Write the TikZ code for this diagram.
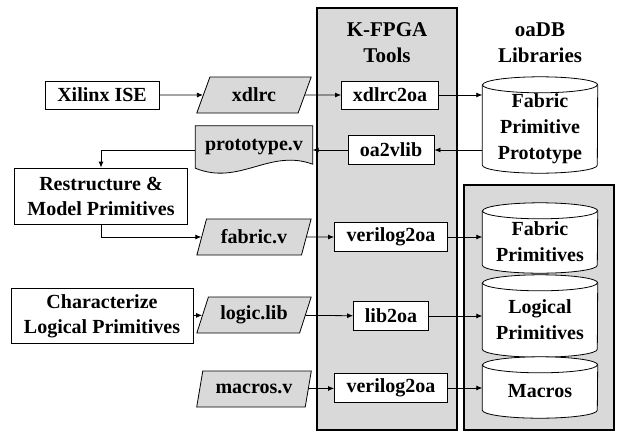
\documentclass[tikz,border=0pt]{standalone}
\usepackage{fontspec}
\setmainfont{Liberation Serif}
\usetikzlibrary{shapes.geometric,arrows.meta,positioning,backgrounds}

\newcommand{\bodyfont}{\fontsize{20}{25}\selectfont\bfseries}
\newcommand{\dbfont}{\fontsize{20}{26}\selectfont\bfseries}
\newcommand{\titlefont}{\fontsize{21}{26}\selectfont\bfseries}
% cylinder drawn round the body node #1
\newcommand{\dbshape}[1]{%
	\draw[fill = white, line width = 0.8pt] (#1.north west) -- ([yshift = 8pt]#1.south west)
		arc[start angle = 180, end angle = 360, x radius = 57.5pt, y radius = 8pt] -- (#1.north east)
		arc[start angle = 0, end angle = 180, x radius = 57.5pt, y radius = 8pt] -- cycle;
	\draw[line width = 0.8pt] (#1.north west) arc[start angle = 180, end angle = 360, x radius = 57.5pt, y radius = 8pt];}

\begin{document}
\begin{tikzpicture}[x = 1pt, y = -1pt]
			% Styles for the boxes, files and databases
			\tikzset{proc/.style = {draw, fill = white, line width = 0.8pt, inner sep = 0pt, font = \bodyfont, align = center}}
			\tikzset{file/.style = {draw, fill = black!15, line width = 0.8pt, inner sep = 0pt, font = \bodyfont,
					trapezium, trapezium left angle = 65, trapezium right angle = 115, trapezium stretches = true,
					minimum width = 115pt, minimum height = 36pt}}
			\tikzset{db/.style = {inner sep = 0pt, font = \dbfont, align = center, minimum width = 115pt}}
			\tikzset{panel/.style = {draw, fill = black!15, line width = 2.6pt}}
			\tikzset{flow/.style = {-{Latex[length = 6pt, width = 5pt]}, line width = 0.8pt}}

			\useasboundingbox (0, 0) rectangle (617, 432);

			% Draw the two tool panels
			\begin{scope}[on background layer]
				\draw[panel] (317, 8) rectangle (457, 430);
				\draw[panel] (464, 185) rectangle (614, 430);
			\end{scope}

			% Panel titles
			\node[font = \titlefont, align = center] (ktitle) at (387, 43) {K-FPGA\\Tools};
			\node[font = \titlefont, align = center] (otitle) at (540, 43) {oaDB\\Libraries};

			% Boxes on the left
			\node[proc, minimum width = 114pt, minimum height = 28pt] (xilinx) at (102, 95) {Xilinx ISE};
			\node[proc, minimum width = 173pt, minimum height = 56pt] (restruct) at (101, 196) {Restructure \&\\Model Primitives};
			\node[proc, minimum width = 182pt, minimum height = 55pt] (charz) at (102, 316) {Characterize\\Logical Primitives};

			% Files
			\node[file] (xdlrc) at (254, 95) {xdlrc};
			\node[font = \bodyfont, inner sep = 0pt, minimum width = 117pt, minimum height = 48pt] (proto) at (254, 150) {};
			\draw[fill = black!15, line width = 0.8pt] (proto.north west) -- (proto.north east) -- ([yshift = 10pt]proto.south east)
				.. controls ([xshift = -43pt, yshift = 26pt]proto.south east) and ([xshift = 44pt, yshift = -12pt]proto.south west)
				.. ([yshift = 6pt]proto.south west) -- cycle;
			\node[font = \bodyfont] at ([yshift = 3pt]proto.center) {prototype.v};
			\node[file] (fabv) at (254, 237) {fabric.v};
			\node[file] (logiclib) at (254, 315) {logic.lib};
			\node[file] (macv) at (254, 389) {macros.v};

			% K-FPGA tools
			\node[proc, minimum width = 97pt, minimum height = 28pt] (xtool) at (390, 95) {xdlrc2oa};
			\node[proc, minimum width = 86pt, minimum height = 29pt] (vlibtool) at (391, 150) {oa2vlib};
			\node[proc, minimum width = 113pt, minimum height = 29pt] (vtoolA) at (391, 237) {verilog2oa};
			\node[proc, minimum width = 75pt, minimum height = 29pt] (libtool) at (391, 316) {lib2oa};
			\node[proc, minimum width = 113pt, minimum height = 29pt] (vtoolB) at (391, 388) {verilog2oa};

			% oaDB libraries (body nodes, cylinders behind them)
			\node[db, minimum height = 88pt] (fpp) at (540, 129) {Fabric\\Primitive\\Prototype};
			\node[db, minimum height = 62pt] (fabprim) at (540, 242) {Fabric\\Primitives};
			\node[db, minimum height = 74pt] (logprim) at (540, 320) {Logical\\Primitives};
			\node[db, minimum height = 53pt] (macros) at (540, 391.5) {Macros};
			\begin{scope}[on background layer]
				\dbshape{fpp}
				\dbshape{fabprim}
				\dbshape{logprim}
				\dbshape{macros}
			\end{scope}

			% Draw the flow arrows
			\draw[flow] (xilinx) -- (xdlrc);
			\draw[flow] (xdlrc) -- (xtool);
			\draw[flow] (xtool.east) -- (xtool.east -| fpp.west);
			\draw[flow] (vlibtool.east -| fpp.west) -- (vlibtool.east);
			\draw[flow] (vlibtool.west) -- (proto.east);
			\draw[flow] (proto.west) -| (restruct.north);
			\draw[flow] (restruct.south) |- (fabv.west);
			\draw[flow] (fabv) -- (vtoolA);
			\draw[flow] (vtoolA.east) -- (vtoolA.east -| fabprim.west);
			\draw[flow] (charz) -- (logiclib);
			\draw[flow] (logiclib) -- (libtool);
			\draw[flow] (libtool.east) -- (libtool.east -| logprim.west);
			\draw[flow] (macv) -- (vtoolB);
			\draw[flow] (vtoolB.east) -- (vtoolB.east -| macros.west);

		\end{tikzpicture}
\end{document}
